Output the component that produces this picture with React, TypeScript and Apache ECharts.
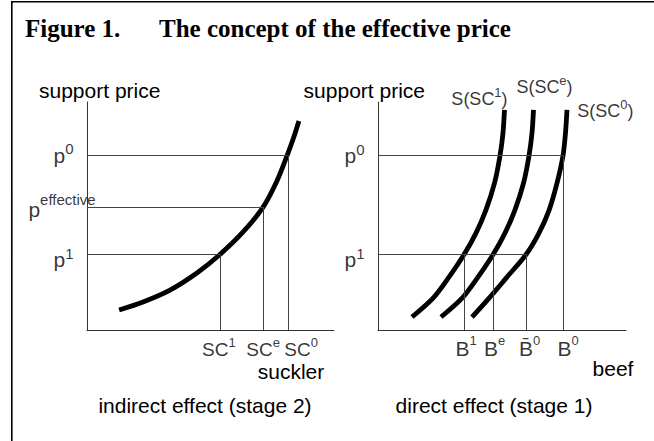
import React, { useEffect, useRef } from "react";
import * as echarts from "echarts";

// ---- data (abstract units, 0..100 on both axes of each panel) ----
const priceLevels = [76.5, 53.9, 33.1]; // p0, p_effective, p1
const sucklerLevels = [81.4, 71.3, 53.8]; // SC0, SCe, SC1 (at p0, p_eff, p1)
const beefLevels = [34.7, 46.4, 59.7, 74.6]; // B1, Be, B̄0, B0
const beefAtPrice = [33.1, 33.1, 33.1, 76.5];

const sucklerSupply = [
  [13.0, 8.8], [22.7, 12.3], [33.6, 17.5], [44.5, 25.0], [53.8, 33.1], [63.2, 43.0],
  [71.3, 53.9], [76.7, 64.9], [81.0, 76.5], [83.6, 84.2], [85.8, 91.7],
];
const supplySC1 = [
  [13.7, 5.7], [22.2, 14.0], [28.6, 23.2], [34.7, 33.1], [39.5, 42.5],
  [43.5, 52.6], [47.0, 64.5], [49.2, 76.5], [50.4, 86.4], [51.0, 96.5],
];
const supplySCe = [
  [25.4, 5.7], [33.9, 14.0], [40.3, 23.2], [46.4, 33.1], [51.2, 42.5],
  [55.2, 52.6], [58.7, 64.5], [60.9, 76.5], [62.1, 86.4], [62.7, 96.5],
];
const supplySC0 = [
  [37.9, 5.7], [44.8, 14.0], [52.0, 23.2], [59.7, 33.1], [64.9, 42.5],
  [69.0, 52.6], [72.2, 64.5], [74.6, 76.5], [75.6, 86.4], [76.2, 96.5],
];

const FONT = "'Liberation Sans', Arial, Helvetica, sans-serif";
const SERIF = "'Liberation Serif', 'Times New Roman', serif";
const GUIDE = "#444";

const rich = {
  b: { fontSize: 21, fontFamily: FONT, color: "#000", lineHeight: 28 },
  bt: { fontSize: 21, fontFamily: FONT, color: "#000", lineHeight: 34 },
  x: { fontSize: 19, fontFamily: FONT, color: "#000", lineHeight: 26 },
  c: { fontSize: 18, fontFamily: FONT, color: "#000", lineHeight: 26 },
  s: { fontSize: 13, fontFamily: FONT, color: "#000", lineHeight: 13, verticalAlign: "top" },
  sp: { fontSize: 15, fontFamily: FONT, color: "#000", lineHeight: 14, verticalAlign: "top" },
  cs: { fontSize: 13, fontFamily: FONT, color: "#000", lineHeight: 13, verticalAlign: "top" },
};

function lbl(value: number[], formatter: string, offset: number[]) {
  return {
    value,
    label: { show: true, position: "inside", formatter, offset, rich },
  };
}

function axes(idx: number) {
  return {
    gridIndex: idx,
    type: "value",
    min: 0,
    max: 100,
    axisLine: { show: true, onZero: false, lineStyle: { color: "#333", width: 1 } },
    axisTick: { show: false },
    axisLabel: { show: false },
    splitLine: { show: false },
  };
}

function curve(name: string, data: number[][], xi: number, marks: any[]) {
  return {
    type: "line",
    name,
    xAxisIndex: xi,
    yAxisIndex: xi,
    data,
    smooth: 0.3,
    symbol: "none",
    lineStyle: { color: "#000", width: 4.8, cap: "butt" },
    z: 3,
    markLine: marks.length
      ? {
          silent: true,
          symbol: ["none", "none"],
          label: { show: false },
          lineStyle: { color: GUIDE, width: 1, type: "solid" },
          emphasis: { disabled: true },
          data: marks,
        }
      : undefined,
  };
}

export default function App() {
  const ref = useRef<HTMLDivElement>(null);
  useEffect(() => {
    if (!ref.current) return;
    const chart = echarts.init(ref.current, null, { renderer: "svg" });
    const [p0, pE, p1] = priceLevels;
    const [sc0, scE, sc1] = sucklerLevels;

    const leftMarks = [
      [{ coord: [0, p0] }, { coord: [sc0, p0] }],
      [{ coord: [0, pE] }, { coord: [scE, pE] }],
      [{ coord: [0, p1] }, { coord: [sc1, p1] }],
      [{ coord: [sc0, 0] }, { coord: [sc0, p0] }],
      [{ coord: [scE, 0] }, { coord: [scE, pE] }],
      [{ coord: [sc1, 0] }, { coord: [sc1, p1] }],
    ];
    const rightMarks: any[] = [
      [{ coord: [0, p0] }, { coord: [beefLevels[3], p0] }],
      [{ coord: [0, p1] }, { coord: [beefLevels[2], p1] }],
    ];
    beefLevels.forEach((b, i) => {
      rightMarks.push([{ coord: [b, 0] }, { coord: [b, beefAtPrice[i]] }]);
    });

    const transparent = { color: "rgba(0,0,0,0)" };

    const option: any = {
      animation: false,
      backgroundColor: "#fff",
      grid: [
        { left: 87, top: 102, width: 247, height: 228 },
        { left: 378, top: 102, width: 248, height: 228 },
      ],
      xAxis: [axes(0), axes(1)],
      yAxis: [axes(0), axes(1)],
      graphic: [
        {
          type: "rect",
          z: -1,
          shape: { x: 11.8, y: 1.8, width: 800, height: 600 },
          style: { fill: "none", stroke: "#000", lineWidth: 1.6 },
        },
        ...[
          { t: "Figure 1.", x: 25 },
          { t: "The concept of the effective price", x: 159 },
        ].map((d) => ({
          type: "text",
          x: d.x,
          y: 28.5,
          style: {
            text: d.t,
            fontSize: 25,
            fontWeight: "bold",
            fontFamily: SERIF,
            fill: "#000",
            align: "left",
            verticalAlign: "middle",
            textAlign: "left",
            textVerticalAlign: "middle",
          },
        })),
        ...[
          { t: "support price", x: 39, y: 90, a: "left" },
          { t: "support price", x: 425, y: 90, a: "right" },
          { t: "suckler", x: 291, y: 371, a: "center" },
          { t: "beef", x: 613, y: 368, a: "center" },
          { t: "indirect effect (stage 2)", x: 205, y: 405, a: "center" },
          { t: "direct effect (stage 1)", x: 494, y: 405, a: "center" },
        ].map((d) => ({
          type: "text",
          x: d.x,
          y: d.y,
          style: {
            text: d.t,
            fontSize: 21,
            fontFamily: FONT,
            fill: "#000",
            align: d.a,
            verticalAlign: "middle",
            textAlign: d.a,
            textVerticalAlign: "middle",
          },
        })),
      ],
      series: [
        curve("suckler supply", sucklerSupply, 0, leftMarks),
        curve("S(SC1)", supplySC1, 1, rightMarks),
        curve("S(SCe)", supplySCe, 1, []),
        curve("S(SC0)", supplySC0, 1, []),
        {
          type: "scatter",
          xAxisIndex: 0,
          yAxisIndex: 0,
          symbolSize: 1,
          itemStyle: transparent,
          silent: true,
          z: 5,
          data: [
            lbl([0, p0], "{b|p}{sp|0}", [-23.5, -0.5]),
            lbl([0, pE], "{bt|p}{sp|effective}", [-25, 2]),
            lbl([0, p1], "{b|p}{sp|1}", [-23.5, 5]),
            lbl([sc1, 0], "{x|SC}{s|1}", [-1, 19]),
            lbl([scE, 0], "{x|SC}{s|e}", [0, 19]),
            lbl([sc0, 0], "{x|SC}{s|0}", [13, 19]),
          ],
        },
        {
          type: "scatter",
          xAxisIndex: 1,
          yAxisIndex: 1,
          symbolSize: 1,
          itemStyle: transparent,
          silent: true,
          z: 5,
          data: [
            lbl([0, p0], "{b|p}{sp|0}", [-23.5, 0]),
            lbl([0, p1], "{b|p}{sp|1}", [-23.5, 5]),
            lbl([beefLevels[0], 0], "{b|B}{s|1}", [2, 18]),
            lbl([beefLevels[1], 0], "{b|B}{s|e}", [1.5, 18]),
            lbl([beefLevels[2], 0], "{b|B\u0304}{s|0}", [3.5, 18]),
            lbl([beefLevels[3], 0], "{b|B}{s|0}", [5, 18]),
            lbl(supplySC1[supplySC1.length - 1], "{c|S(SC}{cs|1}{c|)}", [-25, -11]),
            lbl(supplySCe[supplySCe.length - 1], "{c|S(SC}{cs|e}{c|)}", [11, -23]),
            lbl(supplySC0[supplySC0.length - 1], "{c|S(SC}{cs|0}{c|)}", [38.5, 1]),
          ],
        },
      ],
    };
    chart.setOption(option);
    return () => chart.dispose();
  }, []);
  return (
    <div
      ref={ref}
      style={{ position: "fixed", left: 0, top: 0, width: 654, height: 441, background: "#fff" }}
    />
  );
}
